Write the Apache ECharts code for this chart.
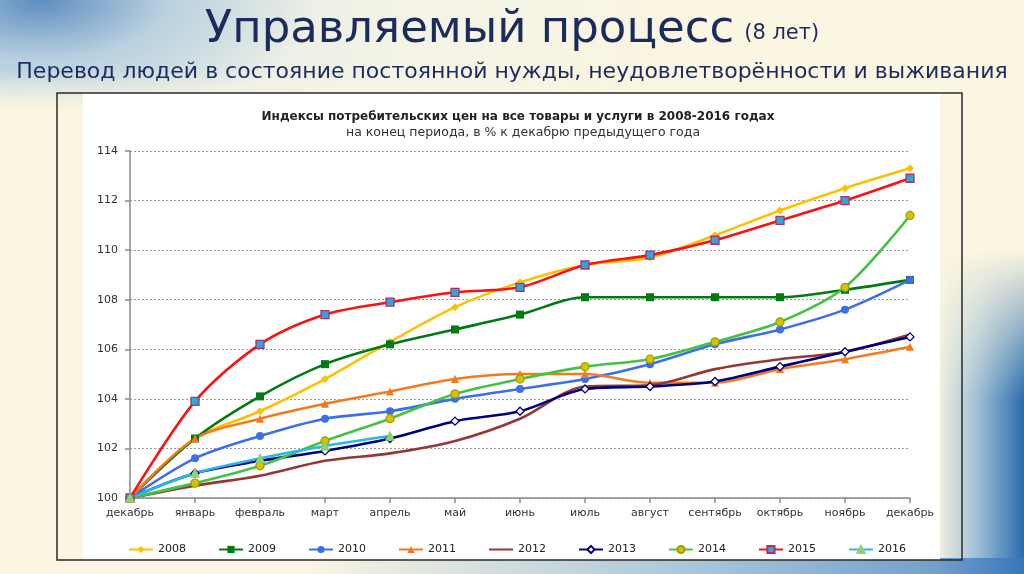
<!DOCTYPE html>
<html><head><meta charset="utf-8">
<script src="https://cdn.jsdelivr.net/npm/echarts@6/dist/echarts.min.js"></script>
<style>
html,body{margin:0;padding:0;width:1024px;height:574px;overflow:hidden;}
body{position:relative;background:#FBF6E1;}
#top{position:absolute;left:0;top:0;width:1024px;height:110px;background:
 radial-gradient(ellipse 280px 130px at 40px 0px, rgba(70,125,185,0.85), rgba(140,180,215,0.5) 45%, rgba(255,255,255,0) 100%),
 linear-gradient(to right, rgba(200,220,235,0.55) 0px, rgba(230,238,240,0.35) 400px, rgba(255,255,255,0) 700px);
 -webkit-mask-image:linear-gradient(to bottom, #000 70px, transparent 110px);mask-image:linear-gradient(to bottom, #000 70px, transparent 110px);}
#strip{position:absolute;right:0;top:250px;width:90px;height:324px;
 background:linear-gradient(to left, rgba(30,100,170,0.95) 0px, rgba(90,150,205,0.6) 45px, rgba(255,255,255,0) 90px);
 -webkit-mask-image:linear-gradient(to bottom, transparent 0px, #000 150px);mask-image:linear-gradient(to bottom, transparent 0px, #000 150px);}
#bot{position:absolute;left:300px;bottom:0;width:724px;height:16px;
 background:linear-gradient(to right, rgba(120,170,215,0) 0px, rgba(110,165,215,0.6) 400px, rgba(60,120,190,0.8) 724px);}
#c{position:absolute;left:0;top:0;width:1024px;height:574px;}
</style></head>
<body><div id="top"></div><div id="strip"></div><div id="bot"></div><div id="c"></div>
<script>
var months = ['декабрь','январь','февраль','март','апрель','май','июнь','июль','август','сентябрь','октябрь','ноябрь','декабрь'];
var yTicks = [100,102,104,106,108,110,112,114];
var y2008 = [100,102.4,103.5,104.8,106.3,107.7,108.7,109.4,109.7,110.6,111.6,112.5,113.3];
var y2009 = [100,102.4,104.1,105.4,106.2,106.8,107.4,108.1,108.1,108.1,108.1,108.4,108.8];
var y2010 = [100,101.6,102.5,103.2,103.5,104.0,104.4,104.8,105.4,106.2,106.8,107.6,108.8];
var y2011 = [100,102.4,103.2,103.8,104.3,104.8,105.0,105.0,104.65,104.65,105.2,105.6,106.1];
var y2012 = [100,100.5,100.9,101.5,101.8,102.3,103.2,104.5,104.55,105.2,105.6,105.9,106.6];
var y2013 = [100,101.0,101.5,101.9,102.4,103.1,103.5,104.4,104.5,104.7,105.3,105.9,106.5];
var y2014 = [100,100.6,101.3,102.3,103.2,104.2,104.8,105.3,105.6,106.3,107.1,108.5,111.4];
var y2015 = [100,103.9,106.2,107.4,107.9,108.3,108.5,109.4,109.8,110.4,111.2,112.0,112.9];
var y2016 = [100,101.0,101.6,102.1,102.5];

var FF = 'DejaVu Sans';
function S(name, data, line, symbol, fill, border) {
  return {
    name: name, type: 'line', data: data, smooth: 0.3,
    symbol: symbol, symbolSize: symbol === 'none' ? 0 : 8, showSymbol: symbol !== 'none',
    lineStyle: {color: line, width: 2.6},
    itemStyle: {color: fill, borderColor: border || fill, borderWidth: border ? 1.3 : 0},
    emphasis: {disabled: true}
  };
}
var chart = echarts.init(document.getElementById('c'), null, {renderer: 'canvas'});
chart.setOption({
  animation: false,
  backgroundColor: 'transparent',
  title: [
    {text: '{a|Управляемый процесс}  {b|(8 лет)}', left: 'center', top: 3,
     textStyle: {rich: {
       a: {fontFamily: FF, fontSize: 45, color: '#1D2B5C', fontWeight: 'normal'},
       b: {fontFamily: FF, fontSize: 21, color: '#1D2B5C', fontWeight: 'normal', padding: [6,0,0,0]}
     }}},
    {text: 'Перевод людей в состояние постоянной нужды, неудовлетворённости и выживания', left: 'center', top: 56,
     textStyle: {fontFamily: FF, fontSize: 22, color: '#1D2B5C', fontWeight: 'normal'}},
    {text: 'Индексы потребительских цен на все товары и услуги в 2008-2016 годах', left: 513, textAlign: 'center', top: 106,
     textStyle: {fontFamily: FF, fontSize: 12, color: '#222', fontWeight: 'bold'}},
    {text: 'на конец периода, в % к декабрю предыдущего года', left: 518, textAlign: 'center', top: 121,
     textStyle: {fontFamily: FF, fontSize: 12.5, color: '#333', fontWeight: 'normal'}}
  ],
  graphic: [
    {type: 'rect', z: -10, silent: true, shape: {x: 83, y: 93, width: 857, height: 467}, style: {fill: '#ffffff'}},
    {type: 'rect', z: -9, silent: true, shape: {x: 57, y: 93, width: 905, height: 467}, style: {fill: 'none', stroke: '#2a2a2a', lineWidth: 1.5}}
  ],
  grid: {left: 130, right: 114, top: 151, bottom: 76, containLabel: false},
  legend: {
    left: 123, top: 539, itemWidth: 24, itemHeight: 9, itemGap: 32,
    textStyle: {fontFamily: FF, fontSize: 11, color: '#222'},
    data: ['2008','2009','2010','2011',
      {name: '2012', itemStyle: {opacity: 0}},
      '2013','2014','2015','2016']
  },
  xAxis: {
    type: 'category', data: months, boundaryGap: false,
    axisLine: {lineStyle: {color: '#8a8a8a', width: 1.5}},
    axisTick: {show: true, length: 5, lineStyle: {color: '#8a8a8a', width: 1.5}},
    axisLabel: {fontFamily: FF, fontSize: 11, color: '#333', margin: 10, interval: 0},
    splitLine: {show: false}
  },
  yAxis: {
    type: 'value', min: yTicks[0], max: yTicks[yTicks.length - 1], interval: 2,
    axisLine: {show: true, lineStyle: {color: '#8a8a8a', width: 1.5}},
    axisTick: {show: true, length: 5, lineStyle: {color: '#8a8a8a', width: 1.5}},
    axisLabel: {fontFamily: FF, fontSize: 11, color: '#333', margin: 12},
    splitLine: {show: true, lineStyle: {color: '#9a9a9a', type: [2, 2], width: 1}}
  },
  series: [
    S('2008', y2008, '#FFC000', 'diamond', '#FFC000'),
    S('2009', y2009, '#007A12', 'rect', '#007A12'),
    S('2010', y2010, '#3D6FEA', 'circle', '#3D6FEA'),
    S('2011', y2011, '#F47A1F', 'triangle', '#F47A1F'),
    S('2012', y2012, '#953735', 'none', '#953735'),
    S('2013', y2013, '#00007E', 'diamond', '#ffffff', '#00007E'),
    S('2014', y2014, '#44C244', 'circle', '#D8C200', '#9AA000'),
    S('2015', y2015, '#FF1010', 'rect', '#27A8E3', '#B03060'),
    S('2016', y2016, '#2BB7EA', 'triangle', '#8FD070', '#8FD070')
  ]
});
</script>
</body></html>
